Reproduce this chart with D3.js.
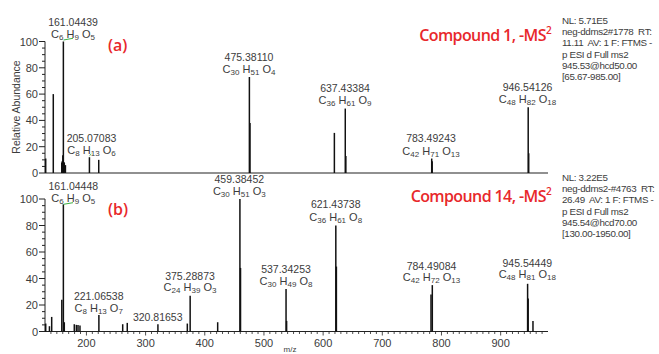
<!DOCTYPE html>
<html><head><meta charset="utf-8">
<script src="https://cdn.jsdelivr.net/npm/d3@7"></script>
<style>
body{margin:0;background:#fff;}
svg{display:block;font-family:"Liberation Sans",Arial,sans-serif;}
.info{white-space:pre;}
</style></head>
<body><svg id="c" width="659" height="354"></svg>
<script>
// ---- data ----
const mzDomain = [130, 980];
const yTicks = [0, 20, 40, 60, 80, 100];
const xTicks = [200, 300, 400, 500, 600, 700, 800, 900];

const peaksA_mz  = [131.2, 144, 158.3, 159.2, 160.1, 160.6, 161.04, 161.8, 162.6, 164.5, 205.07, 220.8, 475.38, 476.4, 619.0, 637.43, 638.4, 783.49, 784.3, 946.54, 947.4];
const peaksA_int = [11, 60, 8, 9, 13.5, 9, 100, 8, 8, 6, 12, 10, 73, 38, 30.5, 49, 13, 11, 9, 50, 15];

const peaksB_mz  = [131.2, 137.5, 141.3, 158.4, 161.04, 162.6, 179.5, 183.0, 185.8, 189.1, 221.07, 261.3, 269.0, 320.82, 370.5, 375.29, 421.8, 459.38, 460.4, 537.34, 538.3, 621.44, 622.4, 782.3, 784.49, 945.54, 946.5, 954.6];
const peaksB_int = [6, 4, 11, 24, 96, 7, 5.5, 5, 5, 4.5, 12.5, 5.5, 6.5, 5.5, 6, 27, 7, 100, 48, 32, 8, 80, 49, 28, 35, 36, 25, 8];

const labelsA_mz   = [161.04439, 205.07083, 475.38110, 637.43384, 783.49243, 946.54126];
const labelsA_text = ["161.04439", "205.07083", "475.38110", "637.43384", "783.49243", "946.54126"];
const labelsA_form = [[["C","6"],["H","9"],["O","5"]], [["C","8"],["H","13"],["O","6"]], [["C","30"],["H","51"],["O","4"]], [["C","36"],["H","61"],["O","9"]], [["C","42"],["H","71"],["O","13"]], [["C","48"],["H","82"],["O","18"]]];

const labelsB_mz   = [161.04448, 221.06538, 320.81653, 375.28873, 459.38452, 537.34253, 621.43738, 784.49084, 945.54449];
const labelsB_text = ["161.04448", "221.06538", "320.81653", "375.28873", "459.38452", "537.34253", "621.43738", "784.49084", "945.54449"];
const labelsB_form = [[["C","6"],["H","9"],["O","5"]], [["C","8"],["H","13"],["O","7"]], null, [["C","24"],["H","39"],["O","3"]], [["C","30"],["H","51"],["O","3"]], [["C","30"],["H","49"],["O","8"]], [["C","36"],["H","61"],["O","8"]], [["C","42"],["H","72"],["O","13"]], [["C","48"],["H","81"],["O","18"]]];

const infoA = ["NL: 5.71E5", "neg-ddms2#1778  RT:", "11.11  AV: 1 F: FTMS -", "p ESI d Full ms2", "945.53@hcd50.00", "[65.67-985.00]"];
const infoB = ["NL: 3.22E5", "neg-ddms2-#4763  RT:", "26.49  AV: 1 F: FTMS -", "p ESI d Full ms2", "945.54@hcd70.00", "[130.00-1950.00]"];

// ---- layout ----
const svg = d3.select("#c");
const txt = "#3c3c3c";
const x = d3.scaleLinear().domain(mzDomain).range([45, 548]);
const panels = [
  {y0:173, y1:41.5, mz:peaksA_mz, it:peaksA_int, lm:labelsA_mz, lt:labelsA_text, lf:labelsA_form,
   info:infoA, infoY:24, tag:"(a)", tagY:51, title:"Compound 1, -MS", titleY:41, xlabels:false,
   labY:[[22,34],[138,150],[57,69],[88,100],[138,151],[87,99]], labX:[73,91.5,249,345,431,527.5],
   green:[[63.5,40,73,38.3],[89.5,155.7,91.3,154]]},
  {y0:331.5, y1:199, mz:peaksB_mz, it:peaksB_int, lm:labelsB_mz, lt:labelsB_text, lf:labelsB_form,
   info:infoB, infoY:181, tag:"(b)", tagY:215, title:"Compound 14, -MS", titleY:202, xlabels:true,
   labY:[[186,198],[296,308],[317,null],[276,287],[179,191],[269,281],[204,217],[266,277],[263,274]],
   labX:[73.3,98.7,157.7,190,239.3,286,335.7,431.5,527.3],
   green:[[63.5,204.3,73,202.7]]}
];

panels.forEach((p) => {
  const y = d3.scaleLinear().domain([0,100]).range([p.y0, p.y1]);
  const g = svg.append("g");

  // y axis
  g.append("line").attr("x1",45).attr("x2",45).attr("y1",y(100)).attr("y2",y(0)).attr("stroke","#222").attr("stroke-width",1);
  g.selectAll(".ymin").data(d3.range(0,101,5)).join("line")
    .attr("x1",d=>d%20===0?39:42).attr("x2",45)
    .attr("y1",d=>y(d)).attr("y2",d=>y(d)).attr("stroke","#222").attr("stroke-width",1);
  g.selectAll(".ylab").data(yTicks).join("text")
    .attr("x",38).attr("y",d=>y(d)+4).attr("text-anchor","end")
    .attr("font-size",11).attr("fill",txt).text(d=>d);

  // x axis
  g.append("line").attr("x1",45).attr("x2",548).attr("y1",p.y0).attr("y2",p.y0).attr("stroke","#222").attr("stroke-width",1.2);
  if (p.xlabels) {
    const minor = d3.range(140, 980, 10);
    g.selectAll(".xmin").data(minor).join("line")
      .attr("x1",d=>x(d)).attr("x2",d=>x(d))
      .attr("y1",p.y0).attr("y2",d=>d%100===0?p.y0+4:p.y0+2.5)
      .attr("stroke","#222").attr("stroke-width",0.8);
    g.selectAll(".xlab").data(xTicks).join("text")
      .attr("x",d=>x(d)).attr("y",p.y0+15).attr("text-anchor","middle")
      .attr("font-size",11).attr("fill",txt).text(d=>d);
  }

  // peaks
  g.selectAll(".pk").data(p.mz.map((m,i)=>[m,p.it[i]])).join("line")
    .attr("x1",d=>x(d[0])).attr("x2",d=>x(d[0]))
    .attr("y1",p.y0).attr("y2",d=>y(d[1]))
    .attr("stroke","#111").attr("stroke-width",1.5);

  // green connectors
  p.green.forEach(s=>{
    g.append("line").attr("x1",s[0]).attr("y1",s[1]).attr("x2",s[2]).attr("y2",s[3])
      .attr("stroke","#3cb043").attr("stroke-width",1);
  });

  // peak labels
  p.lt.forEach((t,i)=>{
    const lx = p.labX[i];
    g.append("text").attr("x",lx).attr("y",p.labY[i][0]+4).attr("text-anchor","middle")
      .attr("font-size",10.5).attr("fill",txt).text(t);
    const f = p.lf[i];
    if (f) {
      const te = g.append("text").attr("x",lx).attr("y",p.labY[i][1]+4).attr("text-anchor","middle")
        .attr("font-size",11).attr("fill",txt);
      f.forEach((e,k)=>{
        te.append("tspan").attr("dy", k===0?0:-2).text((k===0?"":" ")+e[0]);
        te.append("tspan").attr("font-size",8).attr("dy",2).text(e[1]);
      });
    }
  });

  // info text
  p.info.forEach((t,i)=>{
    g.append("text").attr("class","info").attr("x",562).attr("y",p.infoY+i*11.2).attr("font-size",9.8)
      .attr("fill",txt).attr("letter-spacing",-0.35).text(t);
  });

  // tags / titles
  g.append("text").attr("x",108).attr("y",p.tagY).attr("font-family","'Open Sans',sans-serif")
    .attr("font-size",16).attr("font-weight",600).attr("fill","#e8282b").text(p.tag);
  const tt = g.append("text").attr("x",551).attr("y",p.titleY).attr("text-anchor","end")
    .attr("font-family","'Open Sans',sans-serif").attr("font-size",16).attr("font-weight",600)
    .attr("letter-spacing",-0.6).attr("fill","#e8282b");
  tt.append("tspan").text(p.title);
  tt.append("tspan").attr("font-size",10).attr("dy",-7).text("2");
});

// y axis title
svg.append("text").attr("transform","translate(20,107) rotate(-90)").attr("text-anchor","middle")
  .attr("font-size",10.5).attr("fill",txt).text("Relative Abundance");
// x axis title
svg.append("text").attr("x",290).attr("y",352).attr("text-anchor","middle")
  .attr("font-size",8).attr("fill",txt).text("m/z");
</script></body></html>
